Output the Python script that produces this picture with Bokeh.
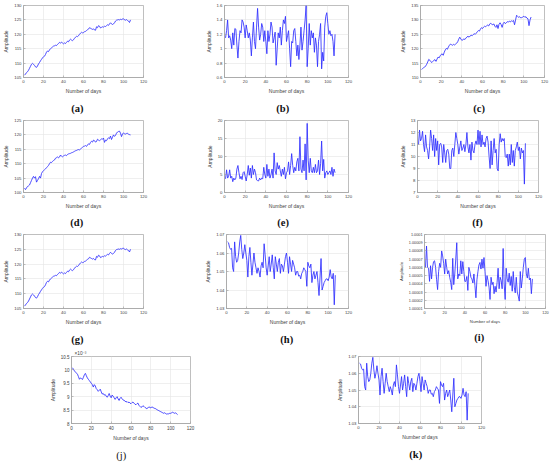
from bokeh.plotting import figure
from bokeh.layouts import row, column
from bokeh.models import FixedTicker, Title
from bokeh.embed import file_html
from bokeh.resources import INLINE

days = list(range(1, 108))
x_ticks = [0, 20, 40, 60, 80, 100, 120]

a_vals = [105.8, 106.2, 106.7, 107.0, 107.5, 108.2, 108.9, 109.6, 109.9, 109.6,
          109.2, 108.7, 108.5, 109.0, 109.7, 110.2, 110.8, 111.3, 111.8, 112.2,
          112.4, 113.0, 113.8, 114.2, 114.0, 114.6, 115.0, 115.3, 115.6, 115.9,
          116.0, 116.2, 116.1, 116.5, 116.8, 117.2, 116.9, 117.3, 117.0, 116.7,
          117.0, 116.8, 117.2, 117.6, 117.4, 118.0, 118.3, 118.0, 117.8, 118.1,
          118.6, 119.0, 119.3, 119.2, 119.5, 120.0, 120.4, 120.7, 120.5, 120.6,
          120.9, 121.0, 121.3, 121.6, 121.8, 122.3, 122.1, 121.9, 121.7, 121.9,
          121.5, 121.4, 122.6, 122.3, 123.0, 122.8, 122.2, 122.4, 122.6, 122.5,
          122.8, 122.7, 123.0, 123.3, 123.1, 123.6, 124.0, 123.6, 123.4, 123.6,
          124.0, 124.6, 124.9, 125.0, 125.1, 125.0, 125.2, 125.1, 125.3, 125.4,
          125.0, 124.9, 125.1, 124.8, 124.6, 124.1, 125.0]
g_vals = a_vals

b_vals = [1.15, 1.25, 1.40, 1.15, 1.18, 1.12, 1.00, 1.22, 1.05, 1.28,
          1.27, 1.05, 0.87, 1.10, 1.25, 1.22, 1.40, 1.37, 1.30, 1.15,
          1.33, 1.25, 1.15, 1.22, 1.12, 0.90, 1.15, 1.37, 1.10, 1.00,
          1.30, 1.56, 1.30, 1.12, 1.20, 1.35, 1.30, 1.10, 1.25, 1.10,
          0.93, 1.25, 1.10, 1.20, 1.37, 1.30, 1.08, 1.15, 1.23, 0.77,
          1.00, 1.22, 1.15, 1.30, 1.05, 1.25, 1.40, 1.35, 1.45, 1.10,
          1.18, 1.25, 1.00, 0.75, 1.10, 1.08, 1.25, 1.28, 1.10, 0.90,
          1.05, 0.85, 1.05, 1.30, 0.98, 1.10, 1.25, 1.40, 1.60, 0.75,
          1.00, 1.35, 1.05, 1.25, 1.15, 1.22, 0.95, 1.15, 1.05, 0.75,
          1.10, 1.20, 1.35, 0.72, 0.95, 0.83, 1.30, 1.45, 1.50, 1.35,
          1.20, 1.25, 1.18, 1.20, 1.10, 0.90, 1.20]

c_vals = [112.8, 113.1, 113.4, 113.6, 114.0, 114.6, 115.4, 116.3, 116.0, 115.5,
          115.2, 115.6, 116.0, 116.2, 115.6, 116.4, 117.1, 116.8, 117.5, 118.0,
          118.2, 117.7, 118.8, 119.6, 120.1, 119.8, 120.6, 121.2, 121.6, 121.4,
          121.2, 121.5, 121.3, 121.6, 121.9, 122.4, 123.3, 124.0, 123.4, 122.9,
          123.1, 123.4, 123.2, 123.7, 124.1, 124.3, 124.0, 124.4, 124.7, 124.5,
          124.9, 125.2, 125.0, 125.4, 125.9, 126.3, 126.1, 126.8, 127.3, 127.0,
          127.5, 127.8, 127.6, 128.0, 128.2, 127.9, 128.6, 128.8, 128.5, 128.3,
          128.6, 127.8, 127.4, 128.3, 127.0, 128.5, 129.0, 128.4, 127.4, 128.7,
          129.2, 128.7, 129.0, 129.4, 129.2, 129.6, 129.3, 129.7, 129.5, 129.8,
          128.3, 130.0, 131.6, 131.2, 130.9, 131.1, 130.7, 130.8, 131.0, 131.3,
          130.9, 131.1, 130.6, 130.4, 128.0, 130.0, 131.0]

d_vals = [101.5, 101.0, 101.6, 102.1, 102.3, 102.6, 103.4, 104.2, 105.0, 105.6,
          105.0, 105.5, 103.6, 104.2, 104.8, 105.6, 105.0, 106.6, 107.2, 107.6,
          107.9, 108.2, 108.6, 109.0, 109.4, 110.0, 110.5, 110.4, 110.8, 111.1,
          111.3, 111.9, 112.1, 112.4, 112.0, 112.3, 113.0, 112.6, 112.4, 112.7,
          112.9, 113.0, 112.8, 113.2, 113.4, 113.5, 113.6, 113.8, 113.9, 114.1,
          114.3, 114.5, 114.6, 114.8, 114.9, 114.8, 115.1, 115.4, 115.7, 116.0,
          116.1, 116.3, 116.0, 116.5, 116.9, 116.7, 117.4, 117.8, 117.5, 118.2,
          118.0, 117.5, 117.7, 118.5, 118.2, 118.0, 118.3, 118.6, 118.5, 118.9,
          117.4, 118.2, 118.0, 118.6, 119.0, 118.7, 119.6, 118.4, 119.2, 120.0,
          119.5, 119.8, 120.6, 121.0, 121.2, 121.3, 120.6, 119.4, 120.3, 120.7,
          120.4, 120.3, 120.5, 120.6, 120.2, 120.1, 120.0]

e_vals = [3.8, 6.3, 4.0, 4.5, 6.3, 4.0, 4.5, 3.0, 4.0, 3.5,
          4.0, 6.5, 7.5, 5.5, 3.8, 4.5, 3.6, 5.5, 5.8, 4.5,
          3.2, 5.0, 7.5, 4.8, 6.8, 4.0, 7.5, 5.0, 6.5, 5.5,
          3.5, 3.3, 3.2, 4.0, 3.5, 4.0, 3.8, 7.0, 5.0, 4.0,
          7.8, 4.5, 6.5, 4.0, 5.0, 6.5, 4.0, 11.0, 6.0, 5.0,
          8.3, 6.5, 7.5, 6.0, 4.5, 6.5, 5.0, 7.0, 3.8, 5.5,
          6.0, 8.5, 5.0, 7.5, 10.8, 7.5, 5.5, 7.0, 6.0, 8.5,
          9.5, 6.0, 15.5, 6.5, 5.5, 9.0, 6.0, 13.5, 3.5, 19.2,
          9.0, 5.5, 9.5, 6.0, 5.5, 7.0, 5.5, 7.8, 5.5, 6.0,
          9.0, 5.0, 8.0, 14.3, 6.0, 9.2, 4.0, 5.5, 6.0, 5.0,
          5.5, 6.0, 5.0, 7.0, 4.5, 6.5, 5.5]

f_vals = [11.0, 12.2, 11.3, 11.5, 12.1, 11.0, 10.4, 11.8, 10.8, 10.5,
          9.8, 10.8, 12.2, 11.5, 10.5, 11.8, 10.0, 11.5, 10.5, 11.3,
          9.3, 11.0, 11.1, 10.8, 9.5, 11.0, 10.3, 9.5, 10.5, 10.6,
          10.2, 9.0, 9.0, 10.5, 10.7, 10.0, 11.0, 12.0, 11.5, 11.0,
          10.2, 10.8, 11.3, 10.5, 10.7, 11.0, 10.4, 11.0, 12.0, 10.8,
          10.3, 11.0, 9.7, 11.2, 10.5, 10.3, 11.0, 11.3, 11.0, 12.2,
          11.0, 12.1, 10.8, 11.8, 11.0, 11.2, 10.8, 11.5, 11.7, 11.2,
          10.0, 9.0, 11.3, 9.3, 10.5, 11.5, 10.3, 10.6, 9.0, 8.8,
          11.0, 11.9, 11.2, 11.5, 11.3, 11.5, 10.0, 9.9, 10.2, 9.2,
          10.2, 9.3, 11.0, 9.5, 10.5, 9.2, 10.5, 10.8, 11.2, 10.5,
          10.8, 9.8, 10.7, 10.3, 10.5, 7.7, 11.1]

h_vals = [1.066, 1.0655, 1.063, 1.062, 1.0625, 1.052, 1.050, 1.066, 1.058, 1.055,
          1.056, 1.060, 1.066, 1.0695, 1.062, 1.057, 1.060, 1.0645, 1.060, 1.056,
          1.047, 1.058, 1.063, 1.055, 1.048, 1.054, 1.060, 1.055, 1.052, 1.049,
          1.052, 1.050, 1.047, 1.053, 1.055, 1.052, 1.065, 1.059, 1.052, 1.048,
          1.053, 1.058, 1.050, 1.054, 1.059, 1.052, 1.046, 1.058, 1.054, 1.050,
          1.055, 1.057, 1.049, 1.054, 1.053, 1.050, 1.054, 1.058, 1.060, 1.055,
          1.049, 1.058, 1.054, 1.050, 1.056, 1.054, 1.052, 1.048, 1.050, 1.050,
          1.0475, 1.048, 1.046, 1.049, 1.050, 1.052, 1.051, 1.050, 1.042, 1.055,
          1.053, 1.052, 1.054, 1.044, 1.048, 1.050, 1.046, 1.048, 1.050, 1.044,
          1.037, 1.047, 1.057, 1.040, 1.042, 1.044, 1.045, 1.046, 1.046, 1.045,
          1.047, 1.051, 1.047, 1.046, 1.049, 1.032, 1.048]
k_vals = h_vals

i_vals = [1.000060, 1.000086, 1.000060, 1.000059, 1.000043, 1.000062, 1.000046, 1.000060, 1.000067, 1.000068,
          1.000060, 1.000045, 1.000033, 1.000055, 1.000065, 1.000060, 1.000080, 1.000074, 1.000065, 1.000052,
          1.000070, 1.000060, 1.000052, 1.000056, 1.000048, 1.000042, 1.000033, 1.000071, 1.000039, 1.000052,
          1.000070, 1.000090, 1.000046, 1.000052, 1.000050, 1.000068, 1.000052, 1.000067, 1.000055, 1.000043,
          1.000043, 1.000049, 1.000032, 1.000060, 1.000055, 1.000048, 1.000046, 1.000041, 1.000052, 1.000038,
          1.000023, 1.000045, 1.000055, 1.000063, 1.000066, 1.000058, 1.000070, 1.000059, 1.000072, 1.000055,
          1.000037, 1.000050, 1.000044, 1.000036, 1.000021, 1.000048, 1.000039, 1.000042, 1.000028, 1.000037,
          1.000030, 1.000042, 1.000059, 1.000034, 1.000048, 1.000044, 1.000034, 1.000083, 1.000040, 1.000021,
          1.000059, 1.000046, 1.000042, 1.000053, 1.000038, 1.000049, 1.000031, 1.000055, 1.000036, 1.000029,
          1.000048, 1.000030, 1.000025, 1.000019, 1.000055, 1.000035, 1.000046, 1.000060, 1.000070, 1.000072,
          1.000052, 1.000047, 1.000059, 1.000045, 1.000047, 1.000028, 1.000046]

j_vals = [10.08, 10.02, 9.96, 9.92, 9.88, 9.84, 9.75, 9.65, 9.70, 9.68,
          9.64, 9.72, 9.82, 9.87, 9.78, 9.70, 9.65, 9.60, 9.55, 9.50,
          9.45, 9.36, 9.45, 9.40, 9.30, 9.26, 9.20, 9.24, 9.28, 9.18,
          9.10, 9.12, 9.06, 9.08, 9.02, 8.98, 9.04, 9.12, 9.02, 8.96,
          9.06, 9.02, 8.96, 8.90, 8.96, 9.00, 8.92, 8.86, 8.94, 8.98,
          8.92, 8.88, 8.86, 8.84, 8.80, 8.82, 8.78, 8.80, 8.76, 8.74,
          8.78, 8.80, 8.76, 8.72, 8.70, 8.74, 8.76, 8.68, 8.64, 8.60,
          8.62, 8.66, 8.64, 8.60, 8.58, 8.55, 8.58, 8.62, 8.60, 8.58,
          8.62, 8.60, 8.58, 8.56, 8.55, 8.52, 8.50, 8.48, 8.46, 8.44,
          8.42, 8.40, 8.38, 8.40, 8.37, 8.35, 8.36, 8.36, 8.38, 8.38,
          8.40, 8.42, 8.40, 8.38, 8.40, 8.36, 8.33]

ticks_a = [105, 110, 115, 120, 125, 130]
ticks_b = [0.6, 0.8, 1.0, 1.2, 1.4, 1.6]
ticks_c = [110, 115, 120, 125, 130, 135]
ticks_d = [100, 105, 110, 115, 120, 125]
ticks_e = [0, 5, 10, 15, 20]
ticks_f = [7, 8, 9, 10, 11, 12, 13]
ticks_h = [1.03, 1.04, 1.05, 1.06, 1.07]
ticks_i = [1.00001, 1.00002, 1.00003, 1.00004, 1.00005, 1.00006, 1.00007, 1.00008, 1.00009, 1.0001]
ticks_j = [8, 8.5, 9, 9.5, 10, 10.5]

S = 1.0


def px(v):
    return int(round(v * S))


AX = "#a3a3a3"
TXT = "#404040"
LINE = "#2e2eff"
TAG_FS = 10.5


def panel(vals, yticks, frame, cell, band, tag, tag_x, tick_fs=4.3, lab_fs=5.0,
          bold=True, mult=None, tag_standoff=8):
    L, T, W, H = frame
    c0, c1 = cell
    r0, r1 = band
    width = px(c1) - px(c0)
    height = px(r1) - px(r0)
    bl = px(L) - px(c0)
    fw = px(L + W) - px(L)
    br = width - bl - fw
    bt = px(T) - px(r0)
    fh = px(T + H) - px(T)
    bb = height - bt - fh
    y0, y1 = yticks[0], yticks[-1]
    p = figure(width=width, height=height, x_range=(0, 120), y_range=(y0, y1),
               output_backend="svg", toolbar_location=None, title=None,
               min_border_left=bl, min_border_right=br,
               min_border_top=bt, min_border_bottom=bb)
    p.background_fill_color = "white"
    p.border_fill_color = "white"
    p.outline_line_color = AX
    p.outline_line_width = 0.7
    p.line(days, vals, line_color=LINE, line_width=0.85)

    p.xaxis.ticker = FixedTicker(ticks=x_ticks)
    p.yaxis.ticker = FixedTicker(ticks=yticks)
    p.xgrid.ticker = FixedTicker(ticks=x_ticks)
    p.ygrid.ticker = FixedTicker(ticks=yticks)
    p.yaxis.major_label_overrides = {t: f"{t:g}" for t in yticks}
    for g in (p.xgrid, p.ygrid):
        g.grid_line_color = "#e4e4e4"
        g.grid_line_width = 0.6
    for ax in (p.xaxis[0], p.yaxis[0]):
        ax.axis_line_color = AX
        ax.axis_line_width = 0.7
        ax.major_tick_line_color = AX
        ax.major_tick_line_width = 0.7
        ax.minor_tick_line_color = None
        ax.major_tick_in = 2
        ax.major_tick_out = 0
        ax.major_label_standoff = 2
        ax.axis_label_standoff = 2
        ax.major_label_text_font = "Liberation Sans"
        ax.major_label_text_font_size = f"{tick_fs}px"
        ax.major_label_text_color = TXT
        ax.axis_label_text_font = "Liberation Sans"
        ax.axis_label_text_font_size = f"{lab_fs}px"
        ax.axis_label_text_font_style = "normal"
        ax.axis_label_text_color = TXT
    p.xaxis.axis_label = "Number of days"
    p.yaxis.axis_label = "Amplitude"

    # panel tag below the x axis, as a below title
    tag_w = 1.17 * TAG_FS
    off_x = (px(tag_x) - px(L)) - tag_w / 2
    p.add_layout(Title(text=tag, align="left", offset=off_x, standoff=tag_standoff,
                       text_font="Liberation Serif",
                       text_font_style="bold" if bold else "normal",
                       text_font_size=f"{TAG_FS}px", text_color="#111111"), "below")
    if mult:
        p.add_layout(Title(text=mult, align="left", offset=3, standoff=1,
                           text_font="Liberation Sans", text_font_style="normal",
                           text_font_size="4.8px", text_color=TXT), "above")
    return p


R1, R2, R3, R4 = (0, 117), (117, 231), (231, 348), (348, 465)

pa = panel(a_vals, ticks_a, (19, 5, 124, 77), (0, 200), R1, "(a)", 73)
pb = panel(b_vals, ticks_b, (224, 5, 124, 77), (200, 397), R1, "(b)", 282)
pc = panel(c_vals, ticks_c, (419, 5, 125, 77), (397, 550), R1, "(c)", 478)

pd = panel(d_vals, ticks_d, (19, 120, 124, 77), (0, 200), R2, "(d)", 72, tag_standoff=7)
pe = panel(e_vals, ticks_e, (224, 120, 124, 77), (200, 395), R2, "(e)", 283, tag_standoff=7)
pf = panel(f_vals, ticks_f, (417, 120, 121, 77), (395, 550), R2, "(f)", 478, tag_standoff=7)

pg = panel(g_vals, ticks_a, (19, 234, 124, 79), (0, 200), R3, "(g)", 73)
ph = panel(h_vals, ticks_h, (226, 234, 122, 79), (200, 395), R3, "(h)", 286)
pi = panel(i_vals, ticks_i, (421, 234, 124, 82), (395, 550), R3, "(i)", 477,
           tick_fs=3.8, lab_fs=4.3, tag_standoff=6)

pj = panel(j_vals, ticks_j, (71, 355, 119, 73), (0, 290), R4, "(j)", 122,
           tick_fs=4.5, bold=False, mult="×10⁻³", tag_standoff=9)
pk = panel(k_vals, ticks_h, (358, 351, 123, 77), (290, 550), R4, "(k)", 415,
           tag_standoff=9)

layout = column(row(pa, pb, pc), row(pd, pe, pf), row(pg, ph, pi), row(pj, pk))

open("out.html", "w").write(file_html(layout, INLINE))
